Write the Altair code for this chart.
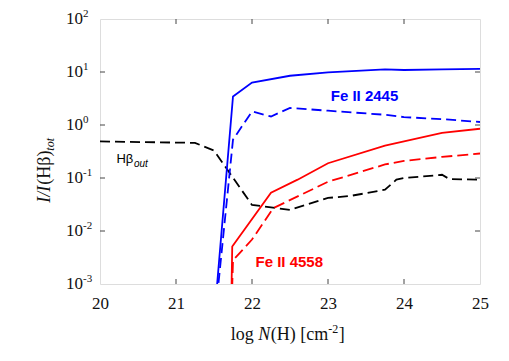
import altair as alt
import pandas as pd

# ---- data ----
blue_solid_x = [21.50, 21.75, 22.00, 22.50, 23.00, 23.75, 24.00, 24.50, 25.00]
blue_solid_y = [2e-4, 3.45, 6.3, 8.5, 9.8, 11.2, 10.9, 11.2, 11.5]

blue_dash_x = [21.50, 21.75, 22.00, 22.25, 22.50, 23.00, 23.75, 24.00, 24.50, 25.00]
blue_dash_y = [1.5e-4, 0.53, 1.8, 1.45, 2.1, 1.86, 1.56, 1.41, 1.29, 1.14]

red_solid_x = [21.72, 21.74, 22.25, 22.60, 23.00, 23.75, 24.00, 24.50, 25.00]
red_solid_y = [1e-4, 0.0051, 0.053, 0.093, 0.19, 0.41, 0.49, 0.71, 0.85]

red_dash_x = [21.72, 21.75, 22.00, 22.28, 23.00, 23.75, 24.00, 24.50, 25.00]
red_dash_y = [1e-4, 0.0028, 0.0069, 0.027, 0.085, 0.18, 0.21, 0.25, 0.29]

hb_x = [20.0, 21.25, 21.50, 22.00, 22.25, 22.50, 23.00, 23.30, 23.75, 23.90, 24.00, 24.50, 24.60, 25.00]
hb_y = [0.49, 0.46, 0.33, 0.031, 0.028, 0.025, 0.042, 0.046, 0.06, 0.093, 0.10, 0.115, 0.095, 0.093]

x_ticks = [20, 21, 22, 23, 24, 25]
y_ticks = [100, 10, 1, 0.1, 0.01, 0.001]
y_exps = ["2", "1", "0", "-1", "-2", "-3"]

SERIF = "Liberation Serif"
SANS = "Liberation Sans"
W, H = 380, 265

xscale = alt.Scale(domain=[20, 25], nice=False, zero=False)
yscale = alt.Scale(type="log", domain=[1e-3, 1e2], nice=False)
xaxis = alt.Axis(values=x_ticks, format="d", ticks=False, domain=False, grid=False,
                 labelFont=SERIF, labelFontSize=17, labelPadding=11, labelFlush=False,
                 labelColor="#111", title=None)


def series(xs, ys, color, dash=None):
    df = pd.DataFrame({"x": xs, "y": ys})
    kw = dict(color=color, strokeWidth=1.8, clip=True)
    if dash:
        kw["strokeDash"] = dash
    return alt.Chart(df).mark_line(**kw).encode(
        x=alt.X("x:Q", scale=xscale, axis=xaxis),
        y=alt.Y("y:Q", scale=yscale, axis=None),
    )


one = pd.DataFrame({"a": [0]})


def px_text(txt, x, y, **kw):
    return alt.Chart(one).mark_text(text=txt, **kw).encode(x=alt.value(x), y=alt.value(y))


def data_text(txt, x, y, **kw):
    df = pd.DataFrame({"x": [x], "y": [y]})
    return alt.Chart(df).mark_text(text=txt, **kw).encode(
        x=alt.X("x:Q", scale=xscale, axis=xaxis),
        y=alt.Y("y:Q", scale=yscale, axis=None),
    )


lines = [
    series(hb_x, hb_y, "#000000", [10, 5]),
    series(blue_dash_x, blue_dash_y, "#0000ff", [10, 5]),
    series(blue_solid_x, blue_solid_y, "#0000ff"),
    series(red_dash_x, red_dash_y, "#ff0000", [11, 5]),
    series(red_solid_x, red_solid_y, "#ff0000"),
]

# inward ticks on all four sides
xt = pd.DataFrame({"v": x_ticks[1:-1]})
yt = pd.DataFrame({"v": y_ticks[1:-1]})
tick_col = "#444"
ticks = [
    alt.Chart(xt).mark_rule(color=tick_col).encode(
        x=alt.X("v:Q", scale=xscale, axis=xaxis), y=alt.value(H), y2=alt.value(H - 5)),
    alt.Chart(xt).mark_rule(color=tick_col).encode(
        x=alt.X("v:Q", scale=xscale, axis=xaxis), y=alt.value(0), y2=alt.value(5)),
    alt.Chart(yt).mark_rule(color=tick_col).encode(
        y=alt.Y("v:Q", scale=yscale, axis=None), x=alt.value(0), x2=alt.value(5)),
    alt.Chart(yt).mark_rule(color=tick_col).encode(
        y=alt.Y("v:Q", scale=yscale, axis=None), x=alt.value(W), x2=alt.value(W - 5)),
]

# y tick labels 10^n
yl = pd.DataFrame({"v": y_ticks, "e": y_exps})
ylabels = [
    alt.Chart(yl).mark_text(align="left", baseline="middle", font=SERIF, fontSize=17,
                            color="#111").encode(
        y=alt.Y("v:Q", scale=yscale, axis=None), x=alt.value(-34), text=alt.value("10")),
    alt.Chart(yl).mark_text(align="left", baseline="middle", font=SERIF, fontSize=11,
                            dy=-5, color="#111").encode(
        y=alt.Y("v:Q", scale=yscale, axis=None), x=alt.value(-17), text="e:N"),
]

# annotations
annots = [
    data_text("Fe II 2445", 23.48, 3.6, font=SANS, fontSize=15, fontWeight="bold",
              color="#0000ff", align="center", baseline="middle"),
    data_text("Fe II 4558", 22.49, 0.0026, font=SANS, fontSize=15, fontWeight="bold",
              color="#ff0000", align="center", baseline="middle"),
    data_text("H\u03b2", 20.216, 0.192, font=SANS, fontSize=13, color="#000",
              align="left", baseline="alphabetic"),
    data_text("out", 20.447, 0.163, font=SANS, fontSize=10, fontStyle="italic",
              color="#000", align="left", baseline="alphabetic"),
]

# x title: log N(H) [cm^-2]
xb = 320.7
x0 = 130.7
xtitle = [
    px_text("log", x0, xb, font=SERIF, fontSize=18, align="left", baseline="alphabetic", color="#111"),
    px_text("N", x0 + 27.5, xb, font=SERIF, fontSize=18, fontStyle="italic", align="left",
            baseline="alphabetic", color="#111"),
    px_text("(H) [cm", x0 + 40, xb, font=SERIF, fontSize=18, align="left", baseline="alphabetic", color="#111"),
    px_text("-2", x0 + 97.5, xb - 7, font=SERIF, fontSize=12, align="left", baseline="alphabetic", color="#111"),
    px_text("]", x0 + 108, xb, font=SERIF, fontSize=18, align="left", baseline="alphabetic", color="#111"),
]

# y title: I/I(Hβ)_tot, rotated
yb = -50.3
y0 = 183.7
ytitle = [
    px_text("I/I", yb, y0, font=SERIF, fontSize=18, fontStyle="italic", angle=270,
            align="left", baseline="alphabetic", color="#111"),
    px_text("(H\u03b2)", yb, y0 - 18, font=SERIF, fontSize=18, angle=270,
            align="left", baseline="alphabetic", color="#111"),
    px_text("tot", yb + 4, y0 - 52, font=SERIF, fontSize=12, fontStyle="italic", angle=270,
            align="left", baseline="alphabetic", color="#111"),
]

chart = alt.layer(*lines, *ticks, *ylabels, *annots, *xtitle, *ytitle).properties(
    width=W, height=H,
    padding={"left": 92, "top": 11, "right": 21, "bottom": 60},
    autosize=alt.AutoSizeParams(type="none"),
).configure_view(stroke="#444", strokeWidth=1.2).configure(background="white")

chart.save("out.html", embed_options={"renderer": "svg", "actions": False})
